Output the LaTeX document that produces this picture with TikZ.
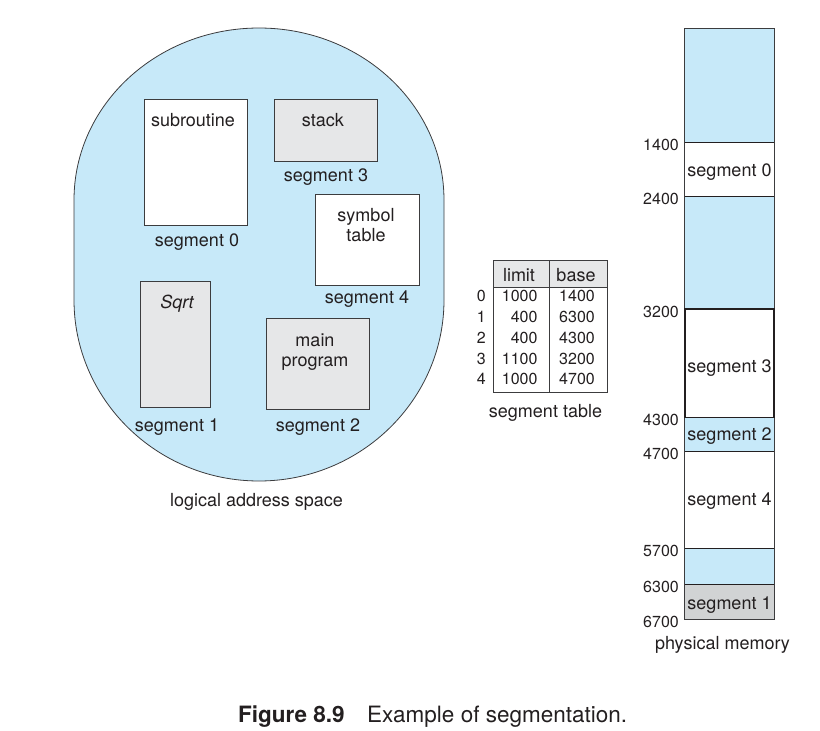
\documentclass[tikz,border=0pt]{standalone}
\usepackage{fontspec}
\setmainfont{TeX Gyre Heros}
\definecolor{ink}{RGB}{35,31,32}
\definecolor{edge}{RGB}{60,60,62}
\definecolor{spaceblue}{RGB}{199,233,249}
\definecolor{boxgray}{RGB}{230,231,232}
\definecolor{seggray}{RGB}{209,211,212}
\begin{document}
\begin{tikzpicture}[x=1pt,y=-1pt,
  lbl/.style={font=\fontsize{18}{21}\selectfont, anchor=base, inner sep=0pt, text=ink},
  num/.style={font=\fontsize{16}{19}\selectfont, anchor=base, inner sep=0pt, text=ink},
  addr/.style={num, anchor=base east},
  segbox/.style={draw=edge, line width=0.9pt, inner sep=0pt},
  wbox/.style={segbox, fill=white},
  gbox/.style={segbox, fill=boxgray},
  memcell/.style={inner sep=0pt, minimum width=89pt, anchor=north},
]
\useasboundingbox (0,0) rectangle (820,731);

% ---- logical address space ----
\draw[edge, line width=0.8pt, fill=spaceblue]
  (74,200) -- (74,300)
  .. controls (74,399.4) and (156.8,481) .. (259,481)
  .. controls (361.2,481) and (444,399.4) .. (444,300)
  -- (444,200)
  .. controls (444,105) and (361.2,28) .. (259,28)
  .. controls (156.8,28) and (74,105) .. (74,200) -- cycle;

\node[wbox, minimum width=103pt, minimum height=126pt] (sub) at (195.5,162) {};
\node[gbox, minimum width=103pt, minimum height=62pt]  (stk) at (325.5,130) {};
\node[wbox, minimum width=104pt, minimum height=91pt]  (sym) at (367,239.5) {};
\node[gbox, minimum width=70pt,  minimum height=126pt] (sqr) at (175,344) {};
\node[gbox, minimum width=103pt, minimum height=91pt]  (mpg) at (317.5,363.5) {};

\node[lbl] (subT)  at (193,126.5) {subroutine};
\node[lbl] (stkT)  at (323,126.5) {stack};
\node[lbl] (symT1) at (366,221.5) {symbol};
\node[lbl] (symT2) at (366,241.5) {table};
\node[lbl] (sqrT)  at (177,308) {\itshape Sqrt};
\node[lbl] (mpgT1) at (315,346) {main};
\node[lbl] (mpgT2) at (315,366.7) {program};

\node[lbl] (subL) at (197,246) {segment 0};
\node[lbl] (stkL) at (326,181.5) {segment 3};
\node[lbl] (symL) at (367,303.3) {segment 4};
\node[lbl] (sqrL) at (177,431.7) {segment 1};
\node[lbl] (mpgL) at (318,431.7) {segment 2};

\node[lbl] (lasT) at (256.5,506.7) {logical address space};

% ---- segment table ----
\fill[boxgray] (493,260) rectangle (607,287);
\fill[white] (493,287) rectangle (607,392);
\draw[edge, line width=0.9pt] (493,260) rectangle (607,392);
\draw[edge, line width=0.9pt] (493,287) -- (607,287);
\draw[edge, line width=0.9pt] (549,260) -- (549,392);

\node[lbl, font=\fontsize{18}{21}\selectfont] (hLim) at (519,281) {limit};
\node[lbl] (hBas) at (576,281) {base};

\foreach \i/\lim/\bas/\y in {0/1000/1400/301.7, 1/400/6300/322.4, 2/400/4300/343.2, 3/1100/3200/364, 4/1000/4700/384.8}{
  \node[num, anchor=base east] (idx\i) at (486,\y) {\i};
  \node[num, anchor=base east] (lim\i) at (537.7,\y) {\lim};
  \node[num, anchor=base east] (bas\i) at (595,\y) {\bas};
}
\node[lbl] (stT) at (545.5,417.7) {segment table};

% ---- physical memory ----
\node[memcell, fill=spaceblue, minimum height=114pt] (m0) at (729.5,28) {};
\node[memcell, fill=white,     minimum height=54pt]  (m1) at (729.5,142) {};
\node[memcell, fill=spaceblue, minimum height=113pt] (m2) at (729.5,196) {};
\node[memcell, fill=white,     minimum height=108pt] (m3) at (729.5,309) {};
\node[memcell, fill=spaceblue, minimum height=34pt]  (m4) at (729.5,417) {};
\node[memcell, fill=white,     minimum height=97pt]  (m5) at (729.5,451) {};
\node[memcell, fill=spaceblue, minimum height=36pt]  (m6) at (729.5,548) {};
\node[memcell, fill=seggray,   minimum height=35pt]  (m7) at (729.5,584) {};

\draw[edge, line width=0.9pt] (m0.north west) rectangle (m7.south east);
\foreach \c in {m1,m2,m4,m5,m6,m7}{
  \draw[ink, line width=0.9pt] (\c.north west) -- (\c.north east);
}
\draw[ink, line width=1.8pt] (m3.north west) rectangle (m3.south east);

\node[lbl] (s0) at (729.5,176.7) {segment 0};
\node[lbl] (s3) at (729.5,372.7) {segment 3};
\node[lbl] (s2) at (729.5,440.7) {segment 2};
\node[lbl] (s4) at (729.5,505.7) {segment 4};
\node[lbl] (s1) at (729.5,609.3) {segment 1};

\node[addr] (a1400) at (679,150.5) {1400};
\node[addr] (a2400) at (679,204.5) {2400};
\node[addr] (a3200) at (679,317.5) {3200};
\node[addr] (a4300) at (679,425.5) {4300};
\node[addr] (a4700) at (679,459.5) {4700};
\node[addr] (a5700) at (679,556.5) {5700};
\node[addr] (a6300) at (679,592.5) {6300};
\node[addr] (a6700) at (679,627.5) {6700};

\node[lbl] (pmT) at (722.5,649) {physical memory};

% ---- caption ----
\node[lbl, anchor=base west, font=\fontsize{22.5}{26}\selectfont\bfseries] (capA) at (238,722.7) {Figure 8.9};
\node[lbl, anchor=base west, font=\fontsize{22.5}{26}\selectfont] (capB) at (367,722.7) {Example of segmentation.};
\end{tikzpicture}
\end{document}
